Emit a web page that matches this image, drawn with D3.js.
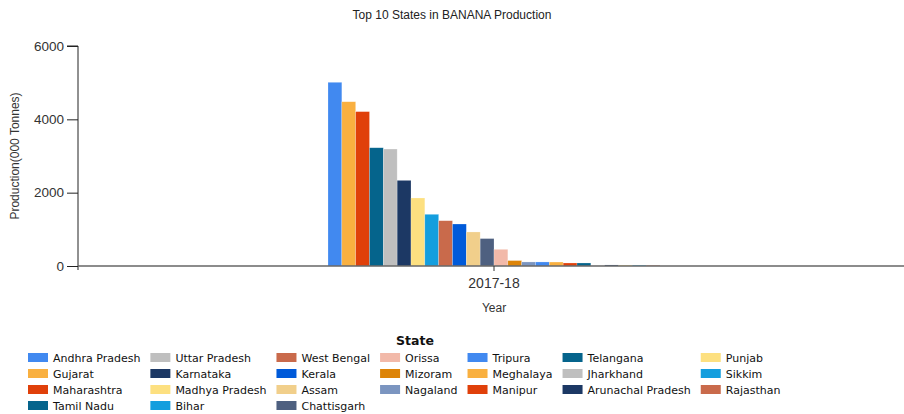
<!DOCTYPE html>
<html>
<head>
<meta charset="utf-8">
<script src="https://cdn.jsdelivr.net/npm/d3@7"></script>
<style>
  html, body { margin: 0; padding: 0; background: #fff; }
  svg { display: block; }
</style>
</head>
<body>
<svg id="chart" width="904" height="414"></svg>
<script>
// ---- data ----
const years = ["2017-18"];
const states = ["Andhra Pradesh","Gujarat","Maharashtra","Tamil Nadu","Uttar Pradesh","Karnataka",
  "Madhya Pradesh","Bihar","West Bengal","Kerala","Assam","Chattisgarh","Orissa","Mizoram","Nagaland",
  "Tripura","Meghalaya","Manipur","Telangana","Jharkhand","Arunachal Pradesh","Punjab","Sikkim","Rajasthan"];
const production = [5010, 4480, 4210, 3225, 3190, 2335, 1855, 1410, 1235, 1145, 928, 748, 455, 148, 110,
  110, 108, 82, 82, 8, 28, 24, 22, 18];
const palette = ["#4189f0","#f9b040","#e0400a","#05648c","#bfbfbf","#1c3864","#fde080","#149ede",
  "#c96a4b","#005ad9","#f1cf8b","#4e6080","#f2b9a9","#dd8408","#7b95c0"];
const yTicks = [0, 2000, 4000, 6000];

(function () {
const svg = d3.select("#chart");
const pl = 78, pr = 910, pt = 46, pb = 266;

const y = d3.scaleLinear().domain([0, 6000]).range([pb, pt]);
const x0 = d3.scaleBand().domain(years).range([pl, pr]).paddingInner(0).paddingOuter(0.753);
const x1 = d3.scaleBand().domain(states).range([0, x0.bandwidth()]).padding(0);
const color = d3.scaleOrdinal().domain(states).range(palette);
const sans = "Liberation Sans, Arial, sans-serif";

// title
svg.append("text").attr("x", 452).attr("y", 19).attr("text-anchor", "middle")
  .attr("font-family", sans).attr("font-size", 12).attr("fill", "#222")
  .text("Top 10 States in BANANA Production");

// bars
const g = svg.append("g");
years.forEach(yr => {
  g.selectAll(null).data(states).enter().append("rect")
    .attr("x", s => x0(yr) + x1(s))
    .attr("width", x1.bandwidth())
    .attr("y", (s, i) => y(production[i]))
    .attr("height", (s, i) => y(0) - y(production[i]))
    .attr("fill", s => color(s))
    .attr("stroke", "#fff").attr("stroke-opacity", 0.35).attr("stroke-width", 0.6);
});

// y axis
const yAxis = svg.append("g").attr("transform", `translate(${pl},0)`)
  .call(d3.axisLeft(y).tickValues(yTicks).tickSize(11).tickPadding(3).tickFormat(d3.format("d")));
yAxis.select(".domain").attr("stroke", "#222").attr("d", `M-11,${pt}H0V${pb + 4}`);
yAxis.selectAll(".tick line").attr("stroke", "#222");
yAxis.selectAll("text").attr("font-family", sans).attr("font-size", 13.5).attr("fill", "#333");

// x axis
const xAxis = svg.append("g").attr("transform", `translate(0,${pb})`)
  .call(d3.axisBottom(x0).tickSize(5).tickPadding(7));
xAxis.select(".domain").attr("stroke", "#666").attr("stroke-width", 1.6).attr("d", `M${pl},0H904`);
xAxis.selectAll(".tick line").attr("stroke", "#333");
xAxis.selectAll("text").attr("font-family", sans).attr("font-size", 14).attr("fill", "#333");

// axis titles
svg.append("text").attr("x", x0(years[0]) + x0.bandwidth() / 2).attr("y", 312).attr("text-anchor", "middle")
  .attr("font-family", sans).attr("font-size", 12).attr("fill", "#333").text("Year");
svg.append("text").attr("transform", `translate(19,${(pt + pb) / 2}) rotate(-90)`).attr("text-anchor", "middle")
  .attr("font-family", sans).attr("font-size", 12).attr("fill", "#333")
  .text("Production(000 Tonnes)");

// legend (column-major)
const lg = svg.append("g");
const legendFont = "DejaVu Sans, Verdana, sans-serif";
const nCols = 7;
const counts = [];
let remaining = states.length;
for (let c = 0; c < nCols; c++) {
  const cnt = Math.ceil(remaining / (nCols - c));
  counts.push(cnt); remaining -= cnt;
}
let idx = 0;
let cx = 28;
counts.forEach(cnt => {
  const items = states.slice(idx, idx + cnt);
  const colG = lg.append("g").attr("transform", `translate(${cx},0)`);
  let maxW = 0;
  items.forEach((s, r) => {
    const yy = 353 + r * 16;
    colG.append("rect").attr("x", 0).attr("y", yy).attr("width", 20).attr("height", 9).attr("fill", color(s));
    const t = colG.append("text").attr("x", 25).attr("y", yy + 9)
      .attr("font-family", legendFont).attr("font-size", 11).attr("fill", "#111").text(s);
    maxW = Math.max(maxW, t.node().getComputedTextLength());
  });
  cx = cx + 25 + maxW + 10;
  idx += cnt;
});
svg.append("text").attr("x", 415).attr("y", 345).attr("text-anchor", "middle")
  .attr("font-family", legendFont).attr("font-weight", "bold").attr("font-size", 12.5).attr("fill", "#111").text("State");
})();
</script>
</body>
</html>
